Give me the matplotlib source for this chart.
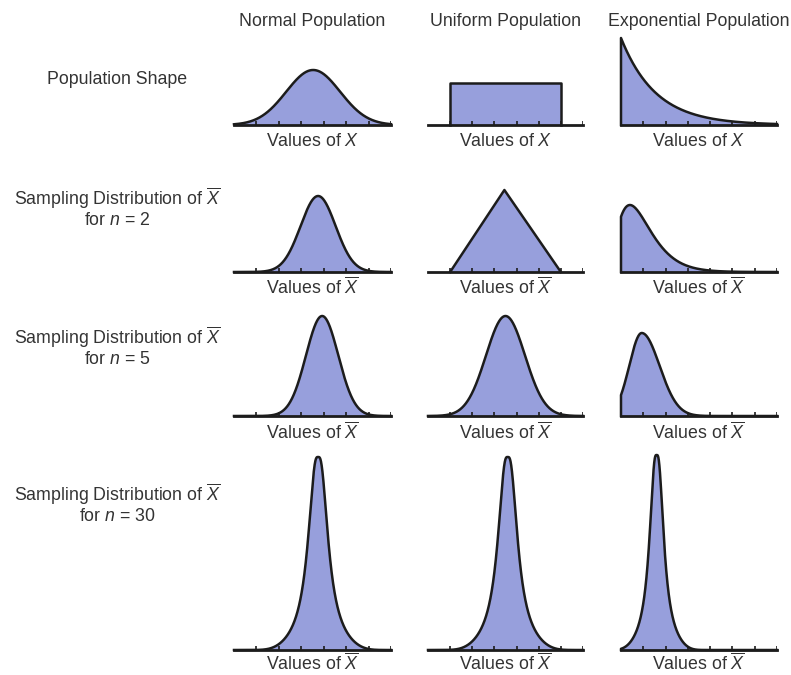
import numpy as np
import matplotlib
matplotlib.use('Agg')
import matplotlib.pyplot as plt

plt.rcParams['font.family'] = ['Liberation Sans', 'DejaVu Sans']
plt.rcParams['mathtext.fontset'] = 'custom'
plt.rcParams['mathtext.rm'] = 'Liberation Sans'
plt.rcParams['mathtext.it'] = 'Liberation Sans:italic'

# text
col_titles = ['Normal Population', 'Uniform Population', 'Exponential Population']
row_labels = ['Population Shape',
              'Sampling Distribution of $\\overline{X}$\nfor $n$ = 2',
              'Sampling Distribution of $\\overline{X}$\nfor $n$ = 5',
              'Sampling Distribution of $\\overline{X}$\nfor $n$ = 30']
x_labels = ['Values of $X$', 'Values of $\\overline{X}$',
            'Values of $\\overline{X}$', 'Values of $\\overline{X}$']

# curve parameters (x in tick units 0..7, height in px)
normal_centers = [3.53, 3.75, 3.93]
normal_sds = [1.2, 0.78, 0.72]
normal_heights = [55, 76, 100]

uniform_range = [1.0, 6.0]
uniform_height = 42
triangle_peak = 3.45
triangle_height = 82
uniform_n5 = [3.5, 0.88, 100]     # center, sd, height

exp_rate = 0.64
exp_height = 87
exp_n2 = [0.4, 0.53, 3, 67]       # mode, scale, shape, height
exp_n5 = [0.93, 0.56, 0.8, 83]    # mode, left sd, right sd, height

# n = 30 peaks: center, width scale, height
n30_normal = [3.75, 1.0, 193]
n30_uniform = [3.6, 1.0, 193]
n30_exp = [1.6, 0.72, 195]

ticks = [1, 2, 3, 4, 5, 6, 7]

# layout in pixels
W, H = 791, 675
col_x = [(234, 391), (428, 583), (621, 777)]
axis_y = [125, 272, 416, 650]
xlabel_y = [142, 287, 432, 663]
label_y = [80, 207, 346, 503]
title_y = 21

fill_c = '#979fdc'
line_c = '#1c1c1c'
text_c = '#333333'
fs = 12.8


def split_normal(x, mode, left, right, height):
    s = np.where(x < mode, left, right)
    return height * np.exp(-0.5 * ((x - mode) / s) ** 2)


def gamma_like(x, mode, scale, k, height):
    v_mode = k - 1
    v = (x - mode) / scale + v_mode
    v = np.clip(v, 1e-9, None)
    return height * (v / v_mode) ** (k - 1) * np.exp(v_mode - v)


def peaked(x, center, scale, height):
    d = np.abs(x - center) / scale
    de = np.sqrt(d ** 2 + 0.09 ** 2) - 0.09
    return height / (1 + (de / 0.43) ** 2) * np.exp(-(d / 1.9) ** 4)


fig = plt.figure(figsize=(W / 100, H / 100), dpi=100)

x = np.linspace(0, 7, 1400)


def panel(r, c):
    x0, x1 = col_x[c]
    ax = fig.add_axes([x0 / W, 1 - axis_y[r] / H, (x1 - x0) / W, 220 / H])
    ax.set_xlim(0, 7)
    ax.set_ylim(0, 220)
    ax.axis('off')
    return ax


def draw(ax, xs, ys):
    ax.fill_between(xs, ys, color=fill_c, lw=0, zorder=1)
    ax.plot(xs, ys, color=line_c, lw=1.8, zorder=3, solid_joinstyle='round', clip_on=False)


def base(ax):
    ax.plot([0, 7], [0, 0], color=line_c, lw=2.0, zorder=4, clip_on=False)
    ax.vlines(ticks, 0, 4, color=line_c, lw=1.2, zorder=4)


for r in range(4):
    for c in range(3):
        ax = panel(r, c)
        if c == 0:
            if r < 3:
                y = normal_heights[r] * np.exp(-0.5 * ((x - normal_centers[r]) / normal_sds[r]) ** 2)
            else:
                y = peaked(x, *n30_normal)
            draw(ax, x, y)
        elif c == 1:
            lo, hi = uniform_range
            if r == 0:
                draw(ax, [lo, lo, hi, hi], [0, uniform_height, uniform_height, 0])
            elif r == 1:
                draw(ax, [lo, triangle_peak, hi], [0, triangle_height, 0])
            elif r == 2:
                m, s, h = uniform_n5
                draw(ax, x, h * np.exp(-0.5 * ((x - m) / s) ** 2))
            else:
                draw(ax, x, peaked(x, *n30_uniform))
        else:
            if r == 0:
                y = exp_height * np.exp(-exp_rate * x)
            elif r == 1:
                y = gamma_like(x, *exp_n2)
            elif r == 2:
                y = split_normal(x, *exp_n5)
            else:
                y = peaked(x, *n30_exp)
            draw(ax, np.r_[0, x], np.r_[0, y])
        base(ax)
        fig.text((col_x[c][0] + col_x[c][1]) / 2 / W, 1 - xlabel_y[r] / H, x_labels[r],
                 ha='center', va='center', fontsize=fs, color=text_c)

for c in range(3):
    fig.text((col_x[c][0] + col_x[c][1]) / 2 / W, 1 - title_y / H, col_titles[c],
             ha='center', va='center', fontsize=fs, color=text_c)

for r in range(4):
    fig.text(117 / W, 1 - label_y[r] / H, row_labels[r], ha='center', va='center',
             fontsize=fs, color=text_c, linespacing=1.1)

fig.savefig('out.png', dpi=100)
